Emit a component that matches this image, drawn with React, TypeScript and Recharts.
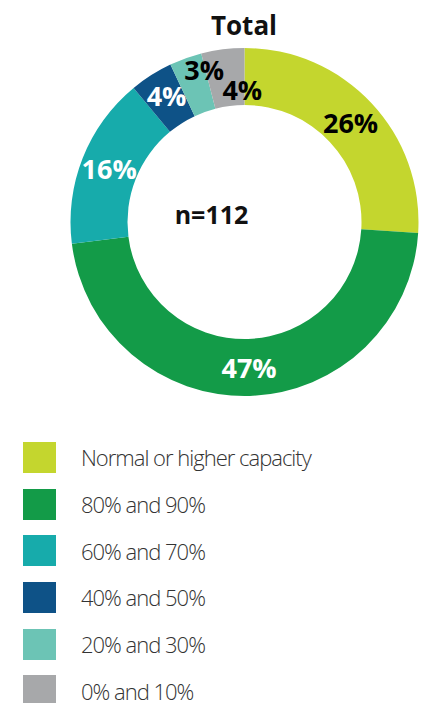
import React from 'react';
import { PieChart, Pie, Cell, Label, Legend } from 'recharts';

const categories = [
  'Normal or higher capacity',
  '80% and 90%',
  '60% and 70%',
  '40% and 50%',
  '20% and 30%',
  '0% and 10%',
];
const shares = [26, 47, 16, 4, 3, 4];
const title = 'Total';
const sampleLabel = 'n=112';

const COLORS = ['#C4D62E', '#139B48', '#17ABAB', '#0E5287', '#6CC4B5', '#A7A8AA'];
const LABEL_COLORS = ['#000', '#fff', '#fff', '#fff', '#000', '#000'];
// small slices at the top are nudged apart so their labels don't collide
const NUDGE = [[0, 0], [0, 0], [0, 0], [0, -4], [9, -16], [16, 12]];

const data = categories.map((name, i) => ({ name, value: shares[i] }));

const FONT = '"Open Sans", "Noto Sans", sans-serif';
const RADIAN = Math.PI / 180;

const renderLabel = (props: any) => {
  const { cx, cy, midAngle, innerRadius, outerRadius, index, value } = props;
  const r = (innerRadius + outerRadius) / 2;
  const x = cx + r * Math.cos(-midAngle * RADIAN) + NUDGE[index][0];
  const y = cy + r * Math.sin(-midAngle * RADIAN) + NUDGE[index][1];
  return (
    <text
      x={x}
      y={y}
      fill={LABEL_COLORS[index]}
      textAnchor="middle"
      dominantBaseline="central"
      fontFamily={FONT}
      fontWeight={700}
      fontSize={27}
    >
      {`${value}%`}
    </text>
  );
};

const renderLegend = () => (
  <div>
    {data.map((entry, i) => (
      <div key={`leg-${i}`} style={{ display: 'flex', alignItems: 'center', height: 46.7 }}>
        <div style={{ width: 33, height: 31, background: COLORS[i], marginRight: 25 }} />
        <span
          style={{
            fontFamily: FONT,
            fontWeight: 300,
            fontSize: 22,
            lineHeight: 1,
            color: '#333',
            letterSpacing: -1,
          }}
        >
          {entry.name}
        </span>
      </div>
    ))}
  </div>
);

export default function App() {
  return (
    <div style={{ position: 'relative', width: 419, height: 695 }}>
      <div
        style={{
          position: 'absolute',
          left: 0,
          width: 472,
          top: -1,
          textAlign: 'center',
          fontFamily: FONT,
          fontWeight: 700,
          fontSize: 26,
          color: '#111',
        }}
      >
        {title}
      </div>
      <PieChart width={419} height={695} margin={{ top: 0, right: 0, bottom: 0, left: 0 }}>
        <Pie
          data={data}
          dataKey="value"
          nameKey="name"
          cx={236.5}
          cy={214}
          innerRadius={117}
          outerRadius={174}
          startAngle={90}
          endAngle={-270}
          stroke="none"
          label={renderLabel}
          labelLine={false}
          isAnimationActive={false}
        >
          {data.map((entry, index) => (
            <Cell key={`cell-${index}`} fill={COLORS[index]} />
          ))}
          <Label
            value={sampleLabel}
            position="center"
            dx={-6}
            fontFamily={FONT}
            fontWeight={700}
            fontSize={25}
            fill="#111"
          />
        </Pie>
        <Legend
          content={renderLegend}
          wrapperStyle={{ position: 'absolute', left: 15, top: 426, width: 400 }}
        />
      </PieChart>
    </div>
  );
}
